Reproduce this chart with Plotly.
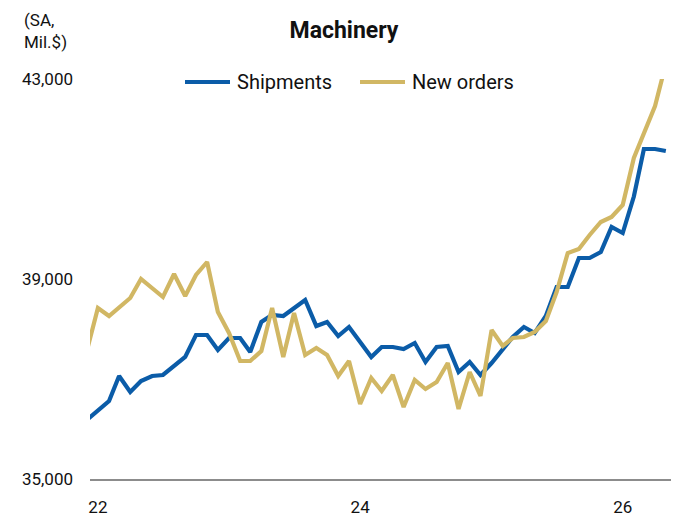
import pandas as pd
import plotly.graph_objects as go

# monthly, Dec 2021 .. May 2026
months = pd.date_range("2021-12-01", "2026-05-01", freq="MS")

shipments = [
    36180, 36360, 36560, 37060, 36740, 36960, 37060, 37080, 37260, 37440,
    37880, 37880, 37580, 37820, 37820, 37540, 38140, 38280, 38260, 38420,
    38580, 38060, 38140, 37860, 38040, 37740, 37440, 37640, 37640, 37600,
    37720, 37340, 37640, 37660, 37140, 37340, 37080, 37320, 37580, 37840,
    38040, 37920, 38260, 38840, 38840, 39420, 39420, 39540, 40040, 39920,
    40650, 41600, 41600, 41560,
]
new_orders = [
    37560, 38420, 38260, 38420, 38620, 39000, 38820, 38640, 39100, 38660,
    39080, 39340, 38340, 37920, 37360, 37360, 37560, 38420, 37440, 38320,
    37480, 37620, 37480, 37060, 37360, 36500, 37020, 36760, 37080, 36440,
    36980, 36800, 36940, 37320, 36400, 37140, 36660, 37980, 37660, 37820,
    37840, 37940, 38160, 38740, 39520, 39600, 39880, 40140, 40240, 40480,
    41420, 41920, 42460, 43300,
]
series_names = ["Shipments", "New orders"]

x_ticks = ["2022-01-01", "2024-01-01", "2026-01-01"]
x_ticktext = ["22", "24", "26"]
y_ticks = [35000, 39000, 43000]

BLUE = "#0B5CA8"
GOLD = "#D1B764"
FONT = "Roboto"
INK = "#111111"

# the page body adds an 8px margin, so the figure is laid out 8px smaller
W, H = 671, 515
L, R, T, B = 82, 6, 71, 44
PW, PH = W - L - R, H - T - B


def px(x):  # page pixel x -> paper
    return (x - 8 - L) / PW


def py(y):  # page pixel y -> paper
    return 1 + (T - (y - 8)) / PH


fig = go.Figure()
for name, vals, col in [(series_names[0], shipments, BLUE),
                        (series_names[1], new_orders, GOLD)]:
    fig.add_trace(go.Scatter(
        x=months, y=vals, mode="lines", name=name,
        line=dict(color=col, width=4.2), showlegend=False,
    ))

# hand-placed legend to match the wider line keys
legend_shapes = []
legend_notes = []
for name, col, x0 in [(series_names[0], BLUE, 185), (series_names[1], GOLD, 360)]:
    legend_shapes.append(dict(
        type="line", xref="paper", yref="paper",
        x0=px(x0), x1=px(x0 + 45), y0=py(82), y1=py(82),
        line=dict(color=col, width=4.2),
    ))
    legend_notes.append(dict(
        text=name, xref="paper", yref="paper", x=px(x0 + 50), y=py(82),
        xanchor="left", yanchor="middle", showarrow=False,
        font=dict(family=FONT, size=20, color=INK),
    ))

fig.update_layout(
    width=W, height=H,
    margin=dict(l=L, r=R, t=T, b=B),
    paper_bgcolor="white", plot_bgcolor="white",
    font=dict(family=FONT, size=17, color=INK),
    title=dict(
        text="<b>Machinery</b>", font=dict(family=FONT, size=23, color=INK),
        xref="container", x=(344 - 8) / W, xanchor="center",
        yref="container", y=1 - (30 - 8) / H, yanchor="middle",
    ),
    xaxis=dict(
        type="date", range=["2021-12-10", "2026-05-21"],
        tickvals=x_ticks, ticktext=x_ticktext,
        showgrid=False, zeroline=False, ticks="",
        showline=True, linecolor="#8c8c8c", linewidth=2,
        ticklabelstandoff=12, tickfont=dict(size=17),
    ),
    yaxis=dict(
        range=[35000, 43000], tickvals=y_ticks, tickformat=",",
        showgrid=False, zeroline=False, ticks="", showline=False,
        ticklabelstandoff=16, tickfont=dict(size=17),
    ),
    shapes=legend_shapes,
    annotations=[dict(
        text="(SA,<br>Mil.$)", xref="paper", yref="paper",
        x=px(22), y=py(8), xanchor="left", yanchor="top", align="left",
        showarrow=False, font=dict(family=FONT, size=17, color=INK),
    )] + legend_notes,
)

fig.write_html("out.html")
